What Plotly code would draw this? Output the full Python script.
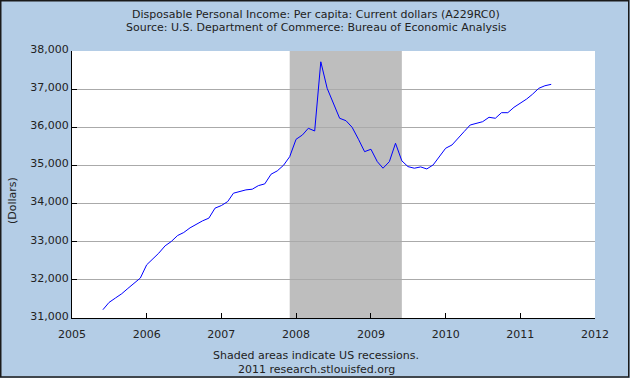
import plotly.graph_objects as go
import pandas as pd

title_line1 = "Disposable Personal Income: Per capita: Current dollars (A229RC0)"
title_line2 = "Source: U.S. Department of Commerce: Bureau of Economic Analysis"
footer_line1 = "Shaded areas indicate US recessions."
footer_line2 = "2011 research.stlouisfed.org"
y_title = "(Dollars)"

dates = pd.date_range("2005-06-01", "2011-06-01", freq="MS").strftime("%Y-%m-%d").tolist()
income = [
    31217, 31408, 31523, 31636, 31775, 31916, 32047,
    32395, 32545, 32700, 32892, 33005, 33162, 33241, 33364, 33460, 33547, 33618, 33880,
    33948, 34053, 34272, 34314, 34359, 34377, 34471, 34516, 34770, 34856, 35005, 35230,
    35685, 35798, 35974, 35903, 37717, 37021, 36628, 36236, 36173, 36000, 35686, 35361,
    35424, 35100, 34927, 35100, 35581, 35120, 34969, 34927, 34961, 34908, 35013, 35215,
    35450, 35536, 35712, 35885, 36060, 36104, 36147, 36262, 36236, 36383, 36383, 36524,
    36628, 36741, 36864, 37021, 37089, 37126,
]
recession_start = "2007-12-01"
recession_end = "2009-06-01"
x_ticks = ["2005-01-01", "2006-01-01", "2007-01-01", "2008-01-01", "2009-01-01",
           "2010-01-01", "2011-01-01", "2012-01-01"]
y_ticks = [31000, 32000, 33000, 34000, 35000, 36000, 37000, 38000]

W, H = 630, 378
L, R, T, B = 72, 35, 51, 60
pw, ph = W - L - R, H - T - B

def py(p):
    return (H - B - p) / ph

def px(p):
    return (p - L) / pw

font = "DejaVu Sans"
txt = "#222222"

fig = go.Figure()
fig.add_trace(go.Scatter(x=dates, y=income, mode="lines",
                         line=dict(color="#0000ff", width=1), hoverinfo="skip"))

fig.add_shape(type="rect", xref="x", yref="paper", x0=recession_start, x1=recession_end,
              y0=0, y1=1, fillcolor="#bebebe", line=dict(width=0), layer="between")

# outer border
fig.add_shape(type="rect", xref="paper", yref="paper",
              x0=px(0.75), x1=px(W - 1.25), y0=py(H - 1.0), y1=py(0.75),
              line=dict(color="#1a1a1a", width=1.5), fillcolor="rgba(0,0,0,0)", layer="above")

annotations = [
    dict(text=title_line1, x=px(316), y=py(14)),
    dict(text=title_line2, x=px(316), y=py(27)),
    dict(text=footer_line1, x=px(316), y=py(355)),
    dict(text=footer_line2, x=px(316), y=py(369)),
    dict(text=y_title, x=px(12), y=py(201), textangle=-90),
]
for a in annotations:
    a.update(xref="paper", yref="paper", showarrow=False, xanchor="center", yanchor="middle",
             font=dict(family=font, size=11, color=txt))
fig.update_layout(annotations=annotations)

fig.update_layout(
    width=W, height=H,
    margin=dict(l=L, r=R, t=T, b=B, pad=0),
    paper_bgcolor="#b4cde6",
    plot_bgcolor="#ffffff",
    showlegend=False,
    font=dict(family=font, size=11, color=txt),
)
fig.update_xaxes(
    type="date", range=["2005-01-01", "2012-01-01"],
    tickvals=x_ticks, tickformat="%Y",
    ticks="inside", ticklen=5, tickcolor="#000000", tickwidth=1,
    showline=True, linecolor="#000000", linewidth=1,
    showgrid=False, zeroline=False, ticklabelstandoff=6,
    tickfont=dict(family=font, size=11, color=txt),
)
fig.update_yaxes(
    range=[31000, 38000], tickvals=y_ticks, tickformat=",d",
    ticks="inside", ticklen=5, tickcolor="#000000", tickwidth=1,
    showline=True, linecolor="#000000", linewidth=1,
    showgrid=True, gridcolor="#aaaaaa", gridwidth=1, zeroline=False,
    ticklabelshift=-2,
    tickfont=dict(family=font, size=11, color=txt),
)

fig.write_html("out.html", config={"displayModeBar": False},
               post_script="document.body.style.margin='0';document.body.style.overflow='hidden';")
